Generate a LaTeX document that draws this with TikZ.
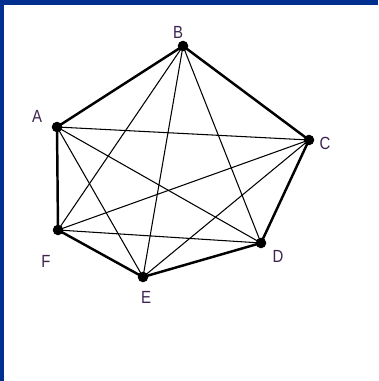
\documentclass[tikz,border=0pt]{standalone}
\usepackage{fontspec}
\setmainfont{Liberation Sans}
\usepackage{xcolor}
\usetikzlibrary{positioning}
\definecolor{frameblue}{HTML}{00308F}
\definecolor{labelcol}{HTML}{3E2350}

\begin{document}
\begin{tikzpicture}[
  x=0.02cm, y=-0.02cm,
  font=\fontsize{10}{10}\selectfont,
  vertex/.style={circle, fill=black, inner sep=0pt, minimum size=6pt},
  lab/.style={text=labelcol, inner sep=0pt, xscale=0.85},
  rim/.style={line width=1.4pt, black},
  chord/.style={line width=0.6pt, black}
]
  \useasboundingbox (0,0) rectangle (378,381);
  \fill[white] (0,0) rectangle (378,381);
  \fill[frameblue] (0,0) rectangle (378,5);
  \fill[frameblue] (0,0) rectangle (4,381);

  % vertices
  \node[vertex] (a) at (57,127) {};
  \node[vertex] (b) at (183,46) {};
  \node[vertex] (c) at (309,140) {};
  \node[vertex] (d) at (261,243) {};
  \node[vertex] (e) at (143,277) {};
  \node[vertex] (f) at (58,230) {};

  % labels
  \node[lab] (la) at (37,116) {A};
  \node[lab] (lb) at (178,32) {B};
  \node[lab] (lc) at (325,143) {C};
  \node[lab] (ld) at (278,256) {D};
  \node[lab] (le) at (146,297) {E};
  \node[lab] (lf) at (46,261) {F};

  % diagonals
  \foreach \u/\v in {a/c, a/d, a/e, b/d, b/e, b/f, c/e, c/f, d/f}
    \draw[chord] (\u.center) -- (\v.center);

  % outer hexagon
  \draw[rim, line join=round] (a.center) -- (b.center) -- (c.center) -- (d.center)
    -- (e.center) -- (f.center) -- cycle;
\end{tikzpicture}
\end{document}
